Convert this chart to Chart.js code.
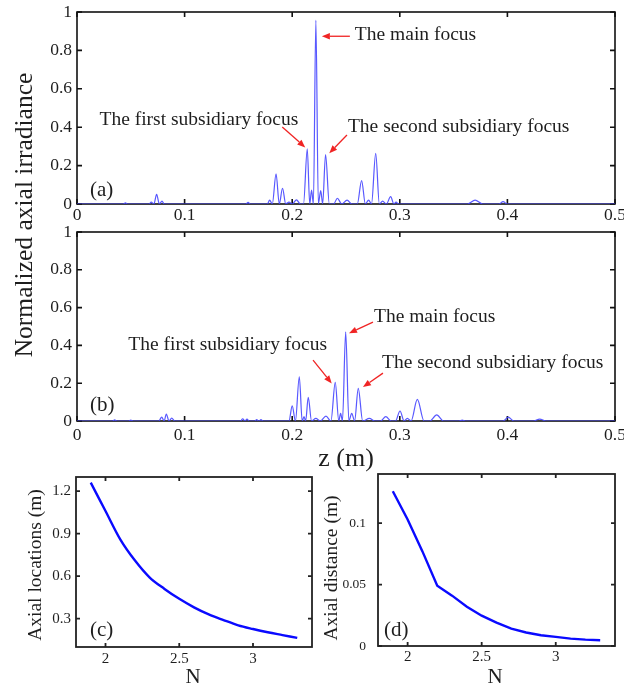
<!DOCTYPE html>
<html>
<head>
<meta charset="utf-8">
<script src="https://cdn.jsdelivr.net/npm/chart.js@4.4.1/dist/chart.umd.min.js"></script>
<style>
  html, body { margin: 0; padding: 0; background: #fff; }
  #fig { position: relative; width: 624px; height: 684px; overflow: hidden; background: #fff; }
  #fig canvas { position: absolute; left: 0; top: 0; }
</style>
</head>
<body>
<div id="fig">
  <canvas id="panelA" width="624" height="684"></canvas>
  <canvas id="panelB" width="624" height="684"></canvas>
  <canvas id="panelC" width="624" height="684"></canvas>
  <canvas id="panelD" width="624" height="684"></canvas>
</div>
<script>
// (a) normalized axial irradiance along z, case 1 (minima and lobe peaks)
const zA = [0, 0.043, 0.045, 0.047, 0.067, 0.069, 0.0715, 0.074, 0.0765, 0.079, 0.081,
  0.157, 0.159, 0.161, 0.177, 0.179, 0.1815, 0.185, 0.188, 0.191, 0.194, 0.197, 0.2,
  0.204, 0.2075, 0.2105, 0.214, 0.2163, 0.218, 0.2197, 0.222, 0.2243, 0.2265, 0.2283,
  0.231, 0.2345, 0.2385, 0.242, 0.246, 0.251, 0.2555, 0.2605, 0.2645, 0.268, 0.271,
  0.2737, 0.2776, 0.281, 0.284, 0.2875, 0.2915, 0.2945, 0.2965, 0.299,
  0.363, 0.37, 0.377, 0.392, 0.396, 0.4, 0.5];
const iA = [0, 0, 0.006, 0, 0, 0.01, 0, 0.05, 0, 0.015, 0,
  0, 0.008, 0, 0, 0.02, 0, 0.157, 0, 0.082, 0, 0.01, 0,
  0.022, 0, 0, 0.287, 0, 0.073, 0, 0.957, 0, 0.07, 0,
  0.257, 0, 0, 0.03, 0, 0.02, 0, 0, 0.122, 0, 0.02,
  0, 0.264, 0, 0.015, 0, 0.038, 0, 0.01, 0,
  0, 0.02, 0, 0, 0.012, 0, 0];

// (b) normalized axial irradiance along z, case 2
const zB = [0, 0.033, 0.035, 0.037, 0.048, 0.05, 0.052, 0.076, 0.0787, 0.081, 0.083, 0.0855,
  0.088, 0.091, 0.152, 0.154, 0.156, 0.158, 0.16, 0.165, 0.167, 0.169, 0.171, 0.173,
  0.197, 0.2, 0.203, 0.2066, 0.2093, 0.211, 0.2125, 0.2149, 0.218, 0.222, 0.226, 0.2314,
  0.236, 0.24, 0.2433, 0.245, 0.2467, 0.2497, 0.2527, 0.2553, 0.258, 0.2614, 0.2655,
  0.2717, 0.277, 0.282, 0.287, 0.292, 0.296, 0.3002, 0.304, 0.307, 0.3105, 0.3163,
  0.3225, 0.328, 0.3343, 0.3405, 0.355, 0.358, 0.361, 0.396, 0.4008, 0.406, 0.424,
  0.43, 0.436, 0.5];
const iB = [0, 0, 0.006, 0, 0, 0.005, 0, 0, 0.02, 0, 0.037, 0,
  0.015, 0, 0, 0.012, 0, 0.01, 0, 0, 0.007, 0, 0.007, 0,
  0, 0.08, 0, 0.234, 0, 0.023, 0, 0.125, 0, 0.014, 0, 0.026,
  0, 0.204, 0, 0.04, 0, 0.472, 0, 0.04, 0, 0.173, 0,
  0.014, 0, 0, 0.023, 0, 0, 0.053, 0, 0.014, 0, 0.114,
  0, 0, 0.032, 0, 0, 0.005, 0, 0, 0.02, 0, 0,
  0.01, 0, 0];

// (c) axial location of the main focus versus N
const nC = [1.9, 2.0, 2.1, 2.2, 2.3, 2.4, 2.5, 2.6, 2.7, 2.8, 2.9, 3.0, 3.1, 3.2, 3.3];
const locC = [1.26, 1.06, 0.86, 0.71, 0.59, 0.51, 0.44, 0.38, 0.33, 0.29, 0.253, 0.227, 0.204, 0.184, 0.164];

// (d) axial distance between foci versus N
const nD = [1.9, 2.0, 2.1, 2.2, 2.3, 2.4, 2.5, 2.6, 2.7, 2.8, 2.9, 3.0, 3.1, 3.2, 3.3];
const distD = [0.126, 0.103, 0.077, 0.049, 0.041, 0.032, 0.0247, 0.019, 0.0142, 0.011, 0.0088, 0.0074, 0.006, 0.0052, 0.0047];

// tick values
const zTicks = [0, 0.1, 0.2, 0.3, 0.4, 0.5];
const irrTicks = [0, 0.2, 0.4, 0.6, 0.8, 1];
const nTicks = [2, 2.5, 3];
const locTicks = [0.3, 0.6, 0.9, 1.2];
const distTicks = [0, 0.05, 0.1];

// text
const yTitleTop = 'Normalized axial irradiance';
const xTitleTop = 'z (m)';
const yTitleC = 'Axial locations (m)';
const yTitleD = 'Axial distance (m)';
const xTitleN = 'N';
const labelMain = 'The main focus';
const labelFirst = 'The first subsidiary focus';
const labelSecond = 'The second subsidiary focus';

const SERIF = '"Liberation Serif", "Times New Roman", "DejaVu Serif", serif';
const INK = '#1e1e1e';
const ARROW = '#f02424';

const pts = (xs, ys) => xs.map((v, i) => ({ x: v, y: ys[i] }));

// frame with inward ticks on all four sides, panel letter, arrows with notes, free text
const decor = {
  id: 'decor',
  beforeDatasetsDraw(chart, args, o) {
    const { ctx, chartArea: a, scales: { x, y } } = chart;
    ctx.save();
    ctx.strokeStyle = o.frameColor;
    ctx.lineWidth = o.frameWidth;
    ctx.strokeRect(a.left, a.top, a.right - a.left, a.bottom - a.top);
    ctx.beginPath();
    x.ticks.forEach(t => {
      const p = x.getPixelForValue(t.value);
      ctx.moveTo(p, a.bottom); ctx.lineTo(p, a.bottom - o.tickLen);
      ctx.moveTo(p, a.top); ctx.lineTo(p, a.top + o.tickLen);
    });
    y.ticks.forEach(t => {
      const p = y.getPixelForValue(t.value);
      ctx.moveTo(a.left, p); ctx.lineTo(a.left + o.tickLen, p);
      ctx.moveTo(a.right, p); ctx.lineTo(a.right - o.tickLen, p);
    });
    ctx.stroke();
    ctx.restore();
  },
  afterDraw(chart, args, o) {
    const { ctx, chartArea: a, scales: { x, y } } = chart;
    ctx.save();
    // panel letter
    if (o.letter) {
      ctx.fillStyle = INK;
      ctx.font = '21px ' + SERIF;
      ctx.textAlign = 'left';
      ctx.textBaseline = 'middle';
      ctx.fillText(o.letter, a.left + o.letterDx, a.bottom + o.letterDy);
    }
    // arrows pointing at lobes, with their notes
    const data = chart.data.datasets[0].data;
    (o.notes || []).forEach(n => {
      const pt = data[n.index];
      const tx = x.getPixelForValue(pt.x) + n.tip[0];
      const ty = y.getPixelForValue(pt.y) + n.tip[1];
      const sx = tx + n.tail[0], sy = ty + n.tail[1];
      ctx.strokeStyle = ARROW; ctx.fillStyle = ARROW; ctx.lineWidth = 1.3;
      const ang = Math.atan2(ty - sy, tx - sx), L = 8, W = 3.2;
      const bx = tx - L * Math.cos(ang), by = ty - L * Math.sin(ang);
      ctx.beginPath(); ctx.moveTo(sx, sy); ctx.lineTo(bx, by); ctx.stroke();
      ctx.beginPath();
      ctx.moveTo(tx, ty);
      ctx.lineTo(bx + W * Math.sin(ang), by - W * Math.cos(ang));
      ctx.lineTo(bx - W * Math.sin(ang), by + W * Math.cos(ang));
      ctx.closePath(); ctx.fill();
      ctx.fillStyle = INK;
      ctx.font = '19.5px ' + SERIF;
      ctx.textAlign = n.align;
      ctx.textBaseline = 'middle';
      ctx.fillText(n.text, sx + n.textAt[0], sy + n.textAt[1]);
    });
    // free text (axis titles)
    (o.texts || []).forEach(t => {
      ctx.save();
      ctx.fillStyle = INK;
      ctx.font = t.size + 'px ' + SERIF;
      ctx.textAlign = 'center';
      ctx.textBaseline = 'middle';
      ctx.translate(t.x, t.y);
      if (t.rot) ctx.rotate(-Math.PI / 2);
      ctx.fillText(t.text, 0, 0);
      ctx.restore();
    });
    ctx.restore();
  }
};

function makeScales(xr, yr, xt, yt, xSize, ySize, xPad, yPad) {
  return {
    x: {
      type: 'linear', min: xr[0], max: xr[1],
      grid: { display: false, drawTicks: false }, border: { display: false },
      afterBuildTicks: s => { s.ticks = xt.map(v => ({ value: v })); },
      afterFit: s => { s.height = 30; s.paddingLeft = 0; s.paddingRight = 0; },
      ticks: { font: { family: SERIF, size: xSize }, color: INK, padding: xPad, maxRotation: 0, minRotation: 0,
        autoSkip: false, callback: v => String(v) }
    },
    y: {
      type: 'linear', min: yr[0], max: yr[1],
      grid: { display: false, drawTicks: false }, border: { display: false },
      afterBuildTicks: s => { s.ticks = yt.map(v => ({ value: v })); },
      afterFit: s => { s.width = 40; s.paddingTop = 0; s.paddingBottom = 0; },
      ticks: { font: { family: SERIF, size: ySize }, color: INK, padding: yPad, autoSkip: false,
        callback: v => String(v) }
    }
  };
}

function makeChart(id, cfg) {
  return new Chart(document.getElementById(id), {
    type: 'line',
    data: { datasets: [{ data: cfg.data, borderColor: cfg.color, borderWidth: cfg.lw,
      pointRadius: 0, fill: false, cubicInterpolationMode: cfg.mode || 'default', tension: cfg.tension || 0 }] },
    options: {
      responsive: false, animation: false, devicePixelRatio: 1,
      events: [],
      layout: { padding: cfg.pad },
      plugins: { legend: { display: false }, tooltip: { enabled: false }, decor: cfg.decor },
      scales: cfg.scales
    },
    plugins: [decor]
  });
}

const frameTop = { frameColor: '#111', frameWidth: 1.6, tickLen: 5 };
const frameLow = { frameColor: '#222', frameWidth: 1.8, tickLen: 4 };

makeChart('panelA', {
  data: pts(zA, iA), color: 'rgba(70,70,255,0.9)', lw: 1.2, mode: 'monotone',
  pad: { left: 37, top: 12, right: 9, bottom: 450 },
  scales: makeScales([0, 0.5], [0, 1], zTicks, irrTicks, 17.5, 17.5, 1, 5),
  decor: Object.assign({}, frameTop, {
    letter: '(a)', letterDx: 13, letterDy: -14,
    notes: [
      { index: zA.indexOf(0.222), tip: [6, 16], tail: [28, 0], text: labelMain, align: 'left', textAt: [5, -1] },
      { index: zA.indexOf(0.214), tip: [-2, -1.5], tail: [-23, -20.5], text: labelFirst, align: 'right', textAt: [16, -7] },
      { index: zA.indexOf(0.231), tip: [3.7, -1.4], tail: [17.7, -18.3], text: labelSecond, align: 'left', textAt: [1, -8] }
    ]
  })
});

makeChart('panelB', {
  data: pts(zB, iB), color: 'rgba(70,70,255,0.9)', lw: 1.2, mode: 'monotone',
  pad: { left: 37, top: 232, right: 9, bottom: 233 },
  scales: makeScales([0, 0.5], [0, 1], zTicks, irrTicks, 17.5, 17.5, 4, 5),
  decor: Object.assign({}, frameTop, {
    letter: '(b)', letterDx: 13, letterDy: -16,
    notes: [
      { index: zB.indexOf(0.2497), tip: [3.3, 1.4], tail: [24, -11], text: labelMain, align: 'left', textAt: [1, -5] },
      { index: zB.indexOf(0.24), tip: [-3.5, 1], tail: [-18.7, -23.3], text: labelFirst, align: 'right', textAt: [14, -15] },
      { index: zB.indexOf(0.2614), tip: [4.7, -1.2], tail: [20, -14], text: labelSecond, align: 'left', textAt: [-1, -10] }
    ],
    texts: [
      { text: yTitleTop, x: 25, y: 215, rot: true, size: 25.5 },
      { text: xTitleTop, x: 346, y: 459, rot: false, size: 26 }
    ]
  })
});

makeChart('panelC', {
  data: pts(nC, locC), color: '#0a0aff', lw: 2.4, mode: 'monotone',
  pad: { left: 36, top: 477, right: 312, bottom: 7 },
  scales: makeScales([1.8, 3.4], [0.1, 1.3], nTicks, locTicks, 15, 15, 3, 5),
  decor: Object.assign({}, frameLow, {
    letter: '(c)', letterDx: 14, letterDy: -17,
    texts: [
      { text: yTitleC, x: 36, y: 565, rot: true, size: 19.5 },
      { text: xTitleN, x: 193, y: 677, rot: false, size: 21 }
    ]
  })
});

makeChart('panelD', {
  data: pts(nD, distD), color: '#0a0aff', lw: 2.4, tension: 0,
  pad: { left: 338, top: 474, right: 9, bottom: 8 },
  scales: makeScales([1.8, 3.4], [0, 0.14], nTicks, distTicks, 15, 13.5, 2, 12),
  decor: Object.assign({}, frameLow, {
    letter: '(d)', letterDx: 6, letterDy: -16,
    texts: [
      { text: yTitleD, x: 332, y: 568, rot: true, size: 19.5 },
      { text: xTitleN, x: 495, y: 677, rot: false, size: 21 }
    ]
  })
});
</script>
</body>
</html>
